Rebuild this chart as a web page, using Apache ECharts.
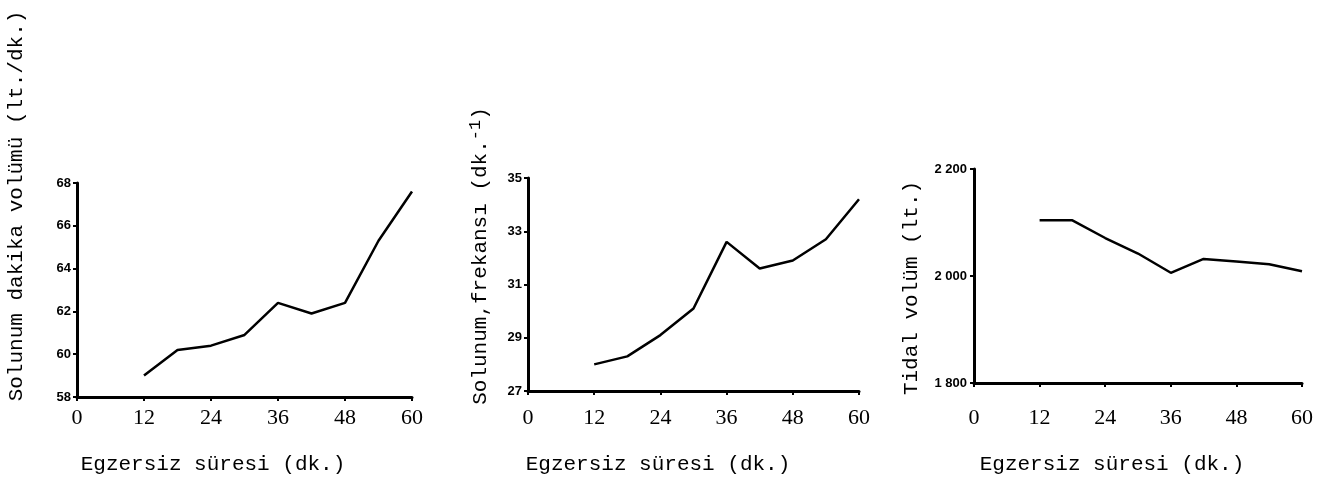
<!DOCTYPE html>
<html>
<head>
<meta charset="utf-8">
<script src="https://cdn.jsdelivr.net/npm/echarts@6/dist/echarts.min.js"></script>
<style>
  html, body { margin: 0; padding: 0; background: #fff; }
  #chart { width: 1331px; height: 483px; }
</style>
</head>
<body>
<div id="chart"></div>
<script>
// Exercise time (minutes) at which each measurement was taken
const minutes = [12, 18, 24, 30, 36, 42, 48, 54, 60];

// Minute ventilation (lt./dk.)
const ventilation = [59.0, 60.2, 60.4, 60.9, 62.4, 61.9, 62.4, 65.3, 67.6];
// Breathing frequency (dk.^-1)
const frequency = [28.0, 28.3, 29.1, 30.1, 32.6, 31.6, 31.9, 32.7, 34.2];
// Tidal volume (lt.)
const tidal = [2104, 2104, 2071, 2042, 2006, 2032, 2027, 2022, 2009];

// Tick values
const xTicks = [0, 12, 24, 36, 48, 60];
const ventTicks = [58, 60, 62, 64, 66, 68];
const freqTicks = [27, 29, 31, 33, 35];
const tidalTicks = [1800, 2000, 2200];

// Axis titles
const xTitle = 'Egzersiz süresi (dk.)';
const ventTitle = 'Solunum dakika volümü (lt./dk.)';
const freqTitle = 'Solunum,frekansı (dk.';
const tidalTitle = 'Tidal volüm (lt.)';

const INK = '#000';
const MONO = '"Liberation Mono", "DejaVu Sans Mono", monospace';

function pairs(ys) { return minutes.map((m, i) => [m, ys[i]]); }

function xAxisFor(gridIndex, margin) {
  return {
    type: 'value', gridIndex, min: 0, max: 60, interval: 12,
    axisLine: { show: true, lineStyle: { color: INK, width: 3 } },
    axisTick: { show: true, length: 4, customValues: xTicks, lineStyle: { color: INK, width: 2 } },
    axisLabel: {
      customValues: xTicks, margin,
      color: INK, fontFamily: '"Liberation Serif", serif', fontSize: 22
    },
    splitLine: { show: false }
  };
}

function yAxisFor(gridIndex, min, max, ticks, margin, fmt) {
  return {
    type: 'value', gridIndex, min, max,
    axisLine: { show: true, lineStyle: { color: INK, width: 3 } },
    axisTick: { show: true, length: 4, customValues: ticks, lineStyle: { color: INK, width: 2 } },
    axisLabel: {
      customValues: ticks, margin, formatter: fmt,
      color: INK, fontFamily: '"Liberation Sans", Arial, sans-serif', fontSize: 13, fontWeight: 'bold'
    },
    splitLine: { show: false }
  };
}

function lineSeries(idx, ys) {
  return {
    type: 'line', xAxisIndex: idx, yAxisIndex: idx,
    data: pairs(ys), showSymbol: false, symbol: 'none',
    lineStyle: { color: INK, width: 2.5 }, silent: true, animation: false
  };
}

function label(text, x, y, rotated) {
  return {
    type: 'text', x, y, rotation: rotated ? Math.PI / 2 : 0,
    style: {
      text, fill: INK, font: '21px ' + MONO,
      align: 'center', verticalAlign: 'middle'
    }
  };
}

const thousands = v => {
  const s = String(v);
  return s.length > 3 ? s.slice(0, s.length - 3) + ' ' + s.slice(-3) : s;
};

const chart = echarts.init(document.getElementById('chart'), null, { renderer: 'canvas' });
chart.setOption({
  backgroundColor: '#fff',
  animation: false,
  grid: [
    { left: 77, top: 183, width: 335, height: 214 },
    { left: 528, top: 178, width: 331, height: 213 },
    { left: 974, top: 169, width: 328, height: 214 }
  ],
  xAxis: [xAxisFor(0, 10), xAxisFor(1, 16), xAxisFor(2, 24)],
  yAxis: [
    yAxisFor(0, 58, 68, ventTicks, 6),
    yAxisFor(1, 27, 35, freqTicks, 6),
    yAxisFor(2, 1800, 2200, tidalTicks, 7, thousands)
  ],
  series: [lineSeries(0, ventilation), lineSeries(1, frequency), lineSeries(2, tidal)],
  graphic: [
    label(ventTitle, 16, 206, true),
    {
      type: 'text', x: 480, y: 256, rotation: Math.PI / 2,
      style: {
        text: '{m|' + freqTitle + '}{s|-1}{m|)}',
        align: 'center', verticalAlign: 'middle',
        rich: {
          m: { font: '21px ' + MONO, fill: INK, lineHeight: 26, verticalAlign: 'middle' },
          s: { font: '17px ' + MONO, fill: INK, lineHeight: 26, verticalAlign: 'top' }
        }
      }
    },
    label(tidalTitle, 911, 288, true),
    label(xTitle, 213, 464, false),
    label(xTitle, 658, 464, false),
    label(xTitle, 1112, 464, false)
  ]
});
</script>
</body>
</html>
